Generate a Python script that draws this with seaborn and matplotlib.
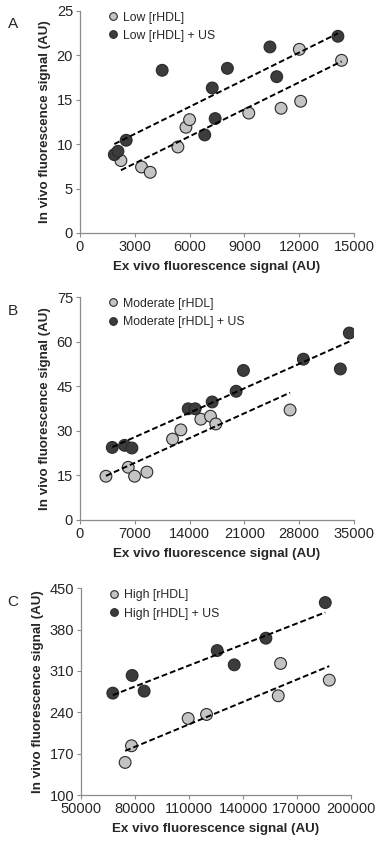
import matplotlib
matplotlib.use("Agg")
import matplotlib.pyplot as plt
import numpy as np
import pandas as pd
import seaborn as sns

# Panel A - low [rHDL]
low_x = [2240, 3370, 3845, 5360, 5800, 6000, 9240, 11010, 12080, 12010, 14320]
low_y = [8.15, 7.43, 6.83, 9.68, 11.9, 12.76, 13.5, 14.04, 14.83, 20.68, 19.44]
low_us_x = [1880, 2080, 2530, 4500, 6830, 7240, 7400, 8070, 10400, 10770, 14120]
low_us_y = [8.82, 9.2, 10.44, 18.32, 11.04, 16.33, 12.88, 18.54, 20.95, 17.6, 22.15]

# Panel B - moderate [rHDL]
mod_x = [3317, 6166, 6975, 8549, 11823, 12886, 15438, 16671, 17351, 26835]
mod_y = [14.7, 17.7, 14.7, 16.1, 27.2, 30.3, 33.9, 34.9, 32.3, 37.0]
mod_us_x = [4125, 5699, 6634, 13822, 14715, 16884, 19946, 20882, 28537, 33258, 34405]
mod_us_y = [24.4, 25.1, 24.2, 37.4, 37.4, 39.7, 43.3, 50.3, 54.1, 50.8, 62.9]

# Panel C - high [rHDL]
high_x = [74476, 78000, 109520, 119720, 159590, 160880, 187950]
high_y = [155.2, 183.4, 229.6, 236.4, 268.0, 322.7, 294.5]
high_us_x = [67620, 78370, 85050, 125650, 135110, 152720, 185730]
high_us_y = [272.5, 302.4, 275.9, 344.6, 320.4, 365.5, 425.8]

LIGHT = "#c4c4c4"
DARK = "#3c3c3c"
EDGE = "#2a2a2a"
AXIS_GREY = "#8c8c8c"

sns.set_style("white")
plt.rcParams["font.family"] = ["Liberation Sans", "DejaVu Sans"]

panels = [
    dict(label="A", name="Low", x=low_x, y=low_y, xu=low_us_x, yu=low_us_y,
         xlim=(0, 15000), xticks=np.arange(0, 15001, 3000),
         ylim=(0, 25), yticks=np.arange(0, 26, 5),
         rect=[0.211, 0.724, 0.723, 0.263]),
    dict(label="B", name="Moderate", x=mod_x, y=mod_y, xu=mod_us_x, yu=mod_us_y,
         xlim=(0, 35000), xticks=np.arange(0, 35001, 7000),
         ylim=(0, 75), yticks=np.arange(0, 76, 15),
         rect=[0.211, 0.384, 0.723, 0.264]),
    dict(label="C", name="High", x=high_x, y=high_y, xu=high_us_x, yu=high_us_y,
         xlim=(50000, 200000), xticks=np.arange(50000, 200001, 30000),
         ylim=(100, 450), yticks=np.arange(100, 451, 70),
         rect=[0.214, 0.058, 0.712, 0.245]),
]

fig = plt.figure(figsize=(3.79, 8.44), dpi=100)

for p in panels:
    ax = fig.add_axes(p["rect"])
    lab1 = f"{p['name']} [rHDL]"
    lab2 = f"{p['name']} [rHDL] + US"
    df = pd.DataFrame({
        "ex": list(p["x"]) + list(p["xu"]),
        "inv": list(p["y"]) + list(p["yu"]),
        "group": [lab1] * len(p["x"]) + [lab2] * len(p["xu"]),
    })
    sns.scatterplot(data=df, x="ex", y="inv", hue="group",
                    palette={lab1: LIGHT, lab2: DARK}, s=72,
                    edgecolor=EDGE, linewidth=0.8, ax=ax, zorder=3)
    for lab in (lab1, lab2):
        sub = df[df["group"] == lab]
        sns.regplot(data=sub, x="ex", y="inv", scatter=False, ci=None, ax=ax,
                    line_kws=dict(color="black", linestyle=(0, (3, 1.5)), linewidth=1.4, zorder=4))

    ax.set_xlim(*p["xlim"])
    ax.set_ylim(*p["ylim"])
    ax.set_xticks(p["xticks"])
    ax.set_yticks(p["yticks"])
    ax.set_xticklabels([str(int(t)) for t in p["xticks"]])
    ax.set_yticklabels([str(int(t)) for t in p["yticks"]])
    ax.set_xlabel("Ex vivo fluorescence signal (AU)", fontsize=9.6, fontweight="bold", labelpad=5)
    ax.set_ylabel("In vivo fluorescence signal (AU)", fontsize=9.6, fontweight="bold", labelpad=4)
    ax.tick_params(axis="both", labelsize=10.5, direction="out", length=3, width=0.8,
                   color=AXIS_GREY, left=True, bottom=True, pad=2)
    sns.despine(ax=ax)
    for sp in ("left", "bottom"):
        ax.spines[sp].set_color(AXIS_GREY)
        ax.spines[sp].set_linewidth(0.9)

    leg = ax.legend(loc="upper left", bbox_to_anchor=(0.05, 1.03), frameon=False,
                    fontsize=8.8, handletextpad=-0.2, markerscale=0.65,
                    labelspacing=0.5, borderaxespad=0.2)
    for h in leg.legend_handles:
        if hasattr(h, "set_markeredgecolor"):
            h.set_markeredgecolor(EDGE)
        else:
            h.set_edgecolor(EDGE)

    fig.text(0.02, ax.get_position().y1 - 0.016, p["label"], fontsize=11, va="center")

fig.savefig("out.png", dpi=100)
